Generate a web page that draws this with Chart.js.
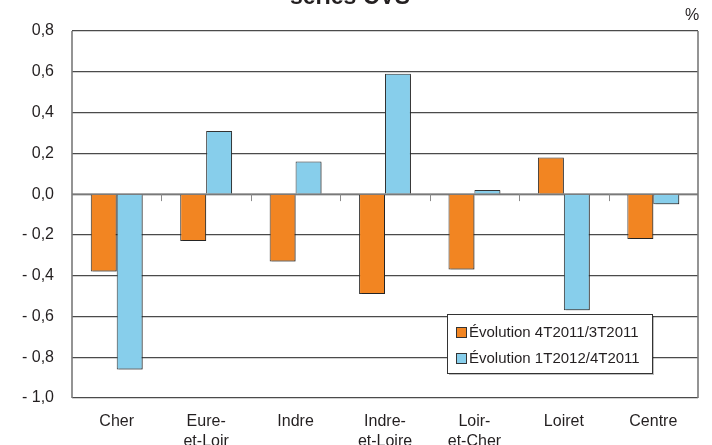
<!DOCTYPE html>
<html>
<head>
<meta charset="utf-8">
<script src="https://cdn.jsdelivr.net/npm/chart.js@4/dist/chart.umd.min.js"></script>
<style>
  html, body { margin: 0; padding: 0; background: #fff; }
  #wrap { width: 712px; height: 445px; position: relative; }
</style>
</head>
<body>
<div id="wrap"><canvas id="c" width="712" height="445"></canvas></div>
<script>
// Départements of the Centre region
const categories = ['Cher', ['Eure-', 'et-Loir'], 'Indre', ['Indre-', 'et-Loire'], ['Loir-', 'et-Cher'], 'Loiret', 'Centre'];
// Quarterly change in employment, %
const evol4T2011 = [-0.38, -0.23, -0.33, -0.49, -0.37, 0.18, -0.22];
const evol1T2012 = [-0.86, 0.31, 0.16, 0.59, 0.02, -0.57, -0.05];
const seriesNames = ['Évolution 4T2011/3T2011', 'Évolution 1T2012/4T2011'];
const yTicks = [-1.0, -0.8, -0.6, -0.4, -0.2, 0.0, 0.2, 0.4, 0.6, 0.8];

const FONT = '"Liberation Sans", Arial, sans-serif';
const TEXT = '#231f20';
const ORANGE = '#f28522';
const BLUE = '#87ceeb';

function frNum(v) {
  const r = Math.round(v * 10) / 10;
  const s = Math.abs(r).toFixed(1).replace('.', ',');
  return r < 0 ? '- ' + s : s;
}

// Title, unit, frame, zero-line ticks and the inset legend
const decor = {
  id: 'decor',
  beforeDatasetsDraw(chart) {
    const { ctx, chartArea: a, scales: { x, y } } = chart;
    const y0 = y.getPixelForValue(0);
    ctx.save();
    // zero line
    ctx.strokeStyle = '#8a8a8a';
    ctx.lineWidth = 1.5;
    ctx.beginPath(); ctx.moveTo(a.left, y0); ctx.lineTo(a.right, y0); ctx.stroke();
    // small ticks between categories
    ctx.lineWidth = 1;
    for (let i = 1; i < categories.length; i++) {
      const px = Math.round((x.getPixelForValue(i - 1) + x.getPixelForValue(i)) / 2) + 0.5;
      ctx.beginPath(); ctx.moveTo(px, y0); ctx.lineTo(px, y0 + 7); ctx.stroke();
    }
    ctx.restore();
    // bar drop shadow
    ctx.save();
    ctx.shadowColor = 'rgba(0,0,0,0.28)';
    ctx.shadowOffsetX = 2;
    ctx.shadowOffsetY = 1;
    ctx.shadowBlur = 0;
  },
  afterDatasetsDraw(chart) {
    chart.ctx.restore();
  },
  afterDraw(chart) {
    const { ctx, chartArea: a } = chart;
    ctx.save();
    // frame sides
    ctx.strokeStyle = '#7a7a7a';
    ctx.lineWidth = 1.6;
    ctx.beginPath();
    ctx.moveTo(a.left, a.top); ctx.lineTo(a.left, a.bottom);
    ctx.moveTo(a.right, a.top); ctx.lineTo(a.right, a.bottom);
    ctx.stroke();

    // title (last line)
    ctx.fillStyle = TEXT;
    ctx.textAlign = 'center';
    ctx.textBaseline = 'alphabetic';
    ctx.font = 'bold 23px ' + FONT;
    ctx.fillText('séries CVS', 350, 4);

    // unit
    ctx.font = '16px ' + FONT;
    ctx.textBaseline = 'middle';
    ctx.fillText('%', 692, 16);

    // legend
    const lx = 447, ly = 314, lw = 205, lh = 59;
    ctx.fillStyle = 'rgba(0,0,0,0.25)';
    ctx.fillRect(lx + 2, ly + 2, lw, lh);
    ctx.fillStyle = '#fff';
    ctx.fillRect(lx, ly, lw, lh);
    ctx.strokeStyle = '#333';
    ctx.lineWidth = 1;
    ctx.strokeRect(lx + 0.5, ly + 0.5, lw, lh);
    const colors = [ORANGE, BLUE];
    ctx.textAlign = 'left';
    ctx.font = '15px ' + FONT;
    seriesNames.forEach((name, i) => {
      const cy = ly + 18 + i * 26;
      ctx.fillStyle = colors[i];
      ctx.fillRect(456, cy - 5, 10, 10);
      ctx.strokeStyle = '#333';
      ctx.strokeRect(456.5, cy - 4.5, 10, 10);
      ctx.fillStyle = TEXT;
      ctx.fillText(name, 469, cy + 1);
    });
    ctx.restore();
  }
};

new Chart(document.getElementById('c'), {
  type: 'bar',
  data: {
    labels: categories,
    datasets: [
      { label: seriesNames[0], data: evol4T2011, backgroundColor: ORANGE, borderColor: '#333', borderWidth: 1 },
      { label: seriesNames[1], data: evol1T2012, backgroundColor: BLUE, borderColor: '#333', borderWidth: 1 }
    ]
  },
  options: {
    responsive: false,
    animation: false,
    devicePixelRatio: 1,
    layout: { padding: { top: 31, right: 14, bottom: 0, left: 0 } },
    datasets: { bar: { categoryPercentage: 0.58, barPercentage: 1.0 } },
    plugins: {
      legend: { display: false },
      title: { display: false },
      tooltip: { enabled: false }
    },
    scales: {
      x: {
        grid: { display: false, drawTicks: false },
        border: { display: false },
        ticks: {
          color: TEXT,
          font: { family: FONT, size: 16, lineHeight: 1.25 },
          padding: 14,
          maxRotation: 0,
          autoSkip: false
        },
        afterFit(s) { s.height = 47; }
      },
      y: {
        min: -1.0,
        max: 0.8,
        afterBuildTicks(s) { s.ticks = yTicks.map(v => ({ value: v })); },
        grid: {
          color: '#4a4a4a',
          lineWidth: 1.2,
          drawTicks: false
        },
        border: { display: false },
        ticks: {
          color: TEXT,
          font: { family: FONT, size: 16 },
          padding: 18,
          callback: v => frNum(v)
        },
        afterFit(s) { s.width = 72; }
      }
    }
  },
  plugins: [decor]
});
</script>
</body>
</html>
